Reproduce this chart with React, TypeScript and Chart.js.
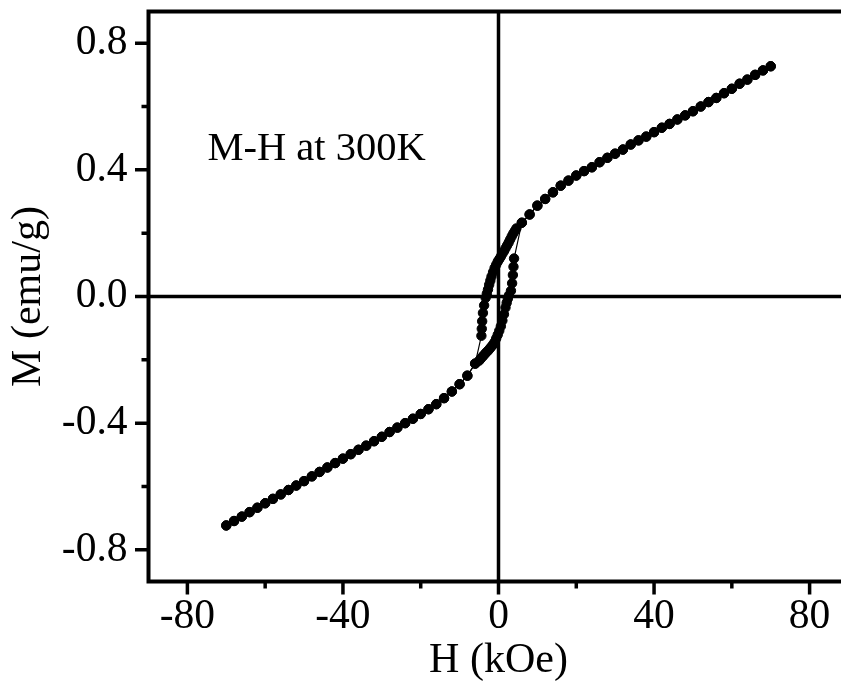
import { useEffect, useRef } from "react";
import { Chart, registerables } from "chart.js";

Chart.register(...registerables);

// Reversible high-field part, positive side (kOe, emu/g), 70 -> 6 kOe
const outerPosH = [70, 68, 66, 64, 62, 60, 58, 56, 54, 52, 50, 48, 46, 44, 42, 40, 38, 36, 34, 32, 30, 28, 26, 24, 22, 20, 18, 16, 14, 12, 10, 8, 6];
const outerPosM = [0.727, 0.714, 0.7, 0.685, 0.672, 0.656, 0.642, 0.627, 0.614, 0.6, 0.585, 0.572, 0.559, 0.545, 0.533, 0.519, 0.505, 0.493, 0.48, 0.464, 0.451, 0.438, 0.424, 0.408, 0.396, 0.382, 0.366, 0.35, 0.329, 0.308, 0.287, 0.259, 0.233];

// Reversible high-field part, negative side, -6 -> -70 kOe
const outerNegH = [-6, -8, -10, -12, -14, -16, -18, -20, -22, -24, -26, -28, -30, -32, -34, -36, -38, -40, -42, -44, -46, -48, -50, -52, -54, -56, -58, -60, -62, -64, -66, -68, -70];
const outerNegM = [-0.212, -0.25, -0.277, -0.3, -0.321, -0.34, -0.356, -0.371, -0.386, -0.4, -0.414, -0.428, -0.443, -0.457, -0.471, -0.484, -0.498, -0.512, -0.526, -0.54, -0.554, -0.568, -0.583, -0.597, -0.611, -0.625, -0.639, -0.653, -0.667, -0.681, -0.695, -0.709, -0.723];

// Decreasing-field branch through the coercive region
const descLoopH = [4.6, 4.2, 3.8, 3.4, 3.0, 2.6, 2.2, 1.8, 1.4, 1.0, 0.6, 0.2, -0.2, -0.6, -1.0, -1.4, -1.8, -2.1, -2.4, -2.7, -3.0, -3.3, -3.7, -4.0, -4.2, -4.3, -4.4];
const descLoopM = [0.215, 0.207, 0.199, 0.19, 0.18, 0.17, 0.161, 0.152, 0.143, 0.135, 0.126, 0.118, 0.11, 0.1, 0.09, 0.077, 0.063, 0.05, 0.037, 0.022, 0.009, -0.004, -0.028, -0.052, -0.078, -0.102, -0.124];

// Increasing-field branch through the coercive region
const ascLoopH = [-5.0, -4.6, -4.2, -3.8, -3.4, -3.0, -2.6, -2.2, -1.8, -1.4, -1.0, -0.6, -0.2, 0.2, 0.6, 1.0, 1.4, 1.8, 2.1, 2.4, 2.7, 3.2, 3.5, 3.7, 3.85, 4.0];
const ascLoopM = [-0.203, -0.197, -0.191, -0.186, -0.18, -0.175, -0.17, -0.164, -0.158, -0.152, -0.144, -0.133, -0.121, -0.108, -0.094, -0.076, -0.056, -0.035, -0.02, -0.007, 0.004, 0.018, 0.042, 0.068, 0.094, 0.12];

const xMajorTicks = [-80, -40, 0, 40, 80];
const xMinorTicks = [-60, -20, 20, 60];
const yMajorTicks = [-0.8, -0.4, 0, 0.4, 0.8];
const yMinorTicks = [-0.6, -0.2, 0.2, 0.6];

const FONT_FAMILY = "'Liberation Serif', 'Times New Roman', Times, serif";
const TICK_SIZE = 41.5;
const TITLE_SIZE = 42;
const NOTE_SIZE = 40.5;

const toPoints = (h: number[], m: number[]) => h.map((x, i) => ({ x, y: m[i] }));

const decreasing = [
  ...toPoints(outerPosH, outerPosM),
  ...toPoints(descLoopH, descLoopM),
  ...toPoints(outerNegH, outerNegM),
];
const increasing = [
  ...toPoints(outerNegH, outerNegM).reverse(),
  ...toPoints(ascLoopH, ascLoopM),
  ...toPoints(outerPosH, outerPosM).reverse(),
];

const framePlugin = {
  id: "mhFrame",
  beforeDatasetsDraw(chart: any) {
    const { ctx, chartArea: a, scales } = chart;
    const x0 = scales.x.getPixelForValue(0);
    const y0 = scales.y.getPixelForValue(0);
    ctx.save();
    ctx.strokeStyle = "#000";
    ctx.lineWidth = 3.5;
    ctx.beginPath();
    ctx.moveTo(x0, a.top);
    ctx.lineTo(x0, a.bottom);
    ctx.moveTo(a.left, y0);
    ctx.lineTo(a.right, y0);
    ctx.stroke();
    ctx.restore();
  },
  afterDatasetsDraw(chart: any) {
    const { ctx, chartArea: a, scales } = chart;
    ctx.save();
    ctx.strokeStyle = "#000";
    ctx.lineWidth = 4;
    ctx.strokeRect(a.left, a.top, a.right - a.left, a.bottom - a.top);

    ctx.lineWidth = 3.5;
    ctx.beginPath();
    for (const v of xMajorTicks) {
      const px = scales.x.getPixelForValue(v);
      ctx.moveTo(px, a.bottom);
      ctx.lineTo(px, a.bottom + 13);
    }
    for (const v of xMinorTicks) {
      const px = scales.x.getPixelForValue(v);
      ctx.moveTo(px, a.bottom);
      ctx.lineTo(px, a.bottom + 7);
    }
    for (const v of yMajorTicks) {
      const py = scales.y.getPixelForValue(v);
      ctx.moveTo(a.left, py);
      ctx.lineTo(a.left - 13.5, py);
    }
    for (const v of yMinorTicks) {
      const py = scales.y.getPixelForValue(v);
      ctx.moveTo(a.left, py);
      ctx.lineTo(a.left - 7, py);
    }
    ctx.stroke();

    ctx.fillStyle = "#000";
    ctx.font = `${NOTE_SIZE}px ${FONT_FAMILY}`;
    ctx.textAlign = "left";
    ctx.textBaseline = "alphabetic";
    ctx.fillText("M-H at 300K", a.left + 59, a.top + 148);
    ctx.restore();
  },
};

const seriesStyle = {
  showLine: true,
  borderColor: "#000",
  borderWidth: 1.2,
  backgroundColor: "#000",
  pointBackgroundColor: "#000",
  pointBorderColor: "#000",
  pointRadius: 4.7,
  pointBorderWidth: 1,
  pointHoverRadius: 4.7,
  tension: 0,
};

export default function App() {
  const canvasRef = useRef<HTMLCanvasElement | null>(null);

  useEffect(() => {
    const canvas = canvasRef.current;
    if (!canvas) return;
    const tickFont = { family: FONT_FAMILY, size: TICK_SIZE, lineHeight: 1.2 };
    const titleFont = { family: FONT_FAMILY, size: TITLE_SIZE, lineHeight: 1 };

    const chart = new Chart(canvas, {
      type: "scatter",
      data: {
        datasets: [
          { label: "decreasing H", data: decreasing, ...seriesStyle },
          { label: "increasing H", data: increasing, ...seriesStyle },
        ],
      },
      options: {
        responsive: false,
        animation: false,
        devicePixelRatio: 1,
        layout: { padding: { left: 0, top: 11.5, right: 11.5, bottom: 0 } },
        plugins: {
          legend: { display: false },
          tooltip: { enabled: false },
        },
        events: [],
        scales: {
          x: {
            type: "linear",
            position: "bottom",
            min: -90,
            max: 90,
            grid: { display: false, drawTicks: false },
            border: { display: false },
            afterBuildTicks: (s: any) => {
              s.ticks = xMajorTicks.map((value) => ({ value }));
            },
            afterFit: (s: any) => {
              s.height = 100.5;
              s.paddingLeft = 0;
              s.paddingRight = 0;
              s.paddingTop = 0;
              s.paddingBottom = 0;
            },
            ticks: {
              color: "#000",
              font: tickFont,
              padding: 11,
              maxRotation: 0,
              autoSkip: false,
              callback: (v: any) => String(v),
            },
            title: {
              display: true,
              text: "H (kOe)",
              color: "#000",
              font: titleFont,
              padding: { top: 0, bottom: 0 },
            },
          },
          y: {
            type: "linear",
            position: "left",
            min: -0.9,
            max: 0.9,
            grid: { display: false, drawTicks: false },
            border: { display: false },
            afterBuildTicks: (s: any) => {
              s.ticks = yMajorTicks.map((value) => ({ value }));
            },
            afterFit: (s: any) => {
              s.width = 148.5;
              s.paddingLeft = 0;
              s.paddingRight = 0;
              s.paddingTop = 0;
              s.paddingBottom = 0;
            },
            ticks: {
              color: "#000",
              font: tickFont,
              padding: 21,
              autoSkip: false,
              callback: (v: any) => Number(v).toFixed(1),
            },
            title: {
              display: true,
              text: "M (emu/g)",
              color: "#000",
              font: titleFont,
              padding: { top: 7.5, bottom: 0 },
            },
          },
        },
      },
      plugins: [framePlugin],
    } as any);

    return () => chart.destroy();
  }, []);

  return (
    <div
      style={{
        position: "fixed",
        left: 0,
        top: 0,
        width: 841,
        height: 682,
        overflow: "hidden",
        background: "#fff",
      }}
    >
      <canvas ref={canvasRef} width={860} height={682} style={{ display: "block", width: 860, height: 682 }} />
    </div>
  );
}
